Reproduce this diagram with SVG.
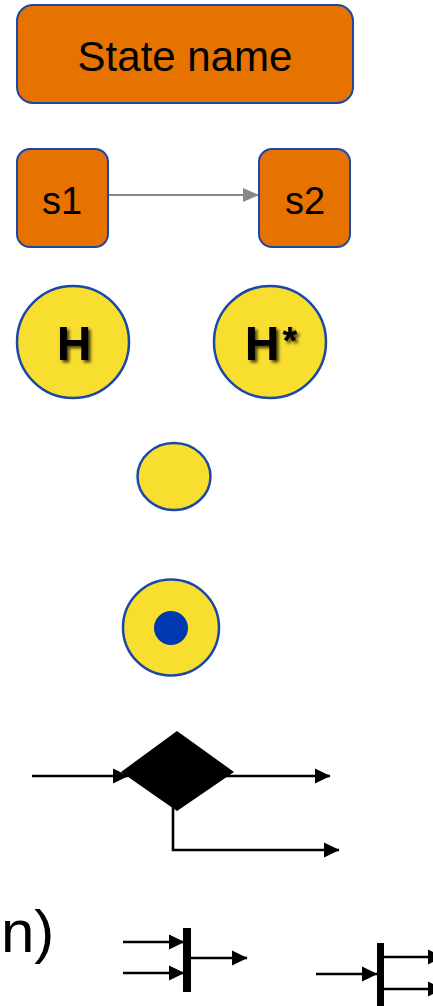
<svg xmlns="http://www.w3.org/2000/svg" width="433" height="1006" viewBox="0 0 433 1006">
<style>
.state{fill:#E67300;stroke:#1A47A8;stroke-width:2}
.pseudo{fill:#F8DE2F;stroke:#1A47A8;stroke-width:2.5}
.lbl{font-family:"Liberation Sans",Arial,sans-serif;fill:#000;text-anchor:middle}
.hist{font-family:"Liberation Sans",Arial,sans-serif;font-weight:bold;fill:#000;filter:url(#shadow)}
.ln{stroke:#000;stroke-width:2.6;fill:none}
</style>
<defs>
<filter id="shadow" x="-30%" y="-30%" width="160%" height="160%">
<feDropShadow dx="2.5" dy="2.5" stdDeviation="1.5" flood-color="#000" flood-opacity="0.7"/>
</filter>
<marker id="ah" markerUnits="userSpaceOnUse" markerWidth="16" markerHeight="16" refX="15" refY="8" orient="auto">
<path d="M0,0.5 L15.5,8 L0,15.5 z" fill="#000"/>
</marker>
<marker id="ahg" markerUnits="userSpaceOnUse" markerWidth="16" markerHeight="14" refX="16" refY="7" orient="auto">
<path d="M0,0 L16,7 L0,14 z" fill="#888"/>
</marker>
</defs>

<g id="connectors">
<line x1="108" y1="195" x2="259" y2="195" stroke="#888" stroke-width="2.2" marker-end="url(#ahg)"/>
<line class="ln" x1="32" y1="776" x2="128" y2="776" marker-end="url(#ah)"/>
<line class="ln" x1="225" y1="776" x2="330" y2="776" marker-end="url(#ah)"/>
<polyline class="ln" points="173,806 173,850 339,850" marker-end="url(#ah)"/>
<line class="ln" x1="123" y1="942" x2="184" y2="942" marker-end="url(#ah)"/>
<line class="ln" x1="123" y1="973" x2="184" y2="973" marker-end="url(#ah)"/>
<line class="ln" x1="191" y1="958" x2="247" y2="958" marker-end="url(#ah)"/>
<line class="ln" x1="316" y1="974" x2="377" y2="974" marker-end="url(#ah)"/>
<line class="ln" x1="383" y1="957" x2="443" y2="957" marker-end="url(#ah)"/>
<line class="ln" x1="383" y1="989" x2="443" y2="989" marker-end="url(#ah)"/>
</g>

<g id="state-name">
<rect class="state" x="17" y="5" width="336" height="98" rx="16"/>
<text class="lbl" x="185" y="71" font-size="42">State name</text>
</g>
<g id="s1">
<rect class="state" x="17" y="149" width="91" height="98" rx="13"/>
<text class="lbl" x="62" y="214" font-size="38">s1</text>
</g>
<g id="s2">
<rect class="state" x="259" y="149" width="91" height="98" rx="13"/>
<text class="lbl" x="305" y="214" font-size="38">s2</text>
</g>

<g id="history">
<circle class="pseudo" cx="73" cy="342" r="56"/>
<text class="hist" x="74" y="360" font-size="48" text-anchor="middle">H</text>
</g>
<g id="deep-history">
<circle class="pseudo" cx="270" cy="342" r="56"/>
<text class="hist" x="262" y="360" font-size="48" text-anchor="middle">H</text>
<text class="hist" x="290" y="354" font-size="38" text-anchor="middle">*</text>
</g>

<g id="initial">
<ellipse class="pseudo" cx="174" cy="476.5" rx="36.5" ry="33.5"/>
</g>
<g id="final">
<circle class="pseudo" cx="171" cy="627.5" r="48"/>
<circle cx="171" cy="628" r="17" fill="#0039AE"/>
</g>

<g id="choice">
<polygon points="121,772 177,731 234,772 177,811" fill="#000"/>
</g>

<g id="caption">
<text x="1" y="952" font-family="'Liberation Sans',Arial,sans-serif" font-size="60" fill="#000">n)</text>
</g>

<g id="join">
<rect x="183" y="928" width="8" height="64" fill="#000"/>
</g>
<g id="fork">
<rect x="377" y="943" width="7" height="70" fill="#000"/>
</g>
</svg>
